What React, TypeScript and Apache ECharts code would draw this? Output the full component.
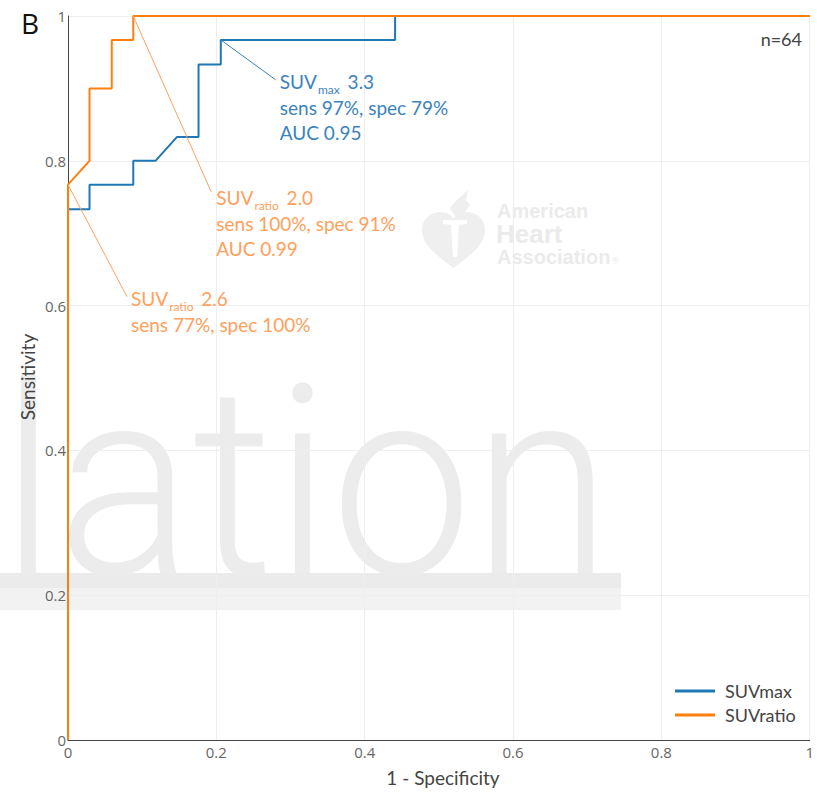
import React, { useEffect, useRef } from 'react';
import * as echarts from 'echarts';

// ROC curve data (1 - specificity, sensitivity)
const suvMaxFpr = [0, 0, 0.029, 0.029, 0.088, 0.088, 0.118, 0.147, 0.176, 0.176, 0.206, 0.206, 0.441, 0.441, 1];
const suvMaxTpr = [0, 0.733, 0.733, 0.767, 0.767, 0.8, 0.8, 0.833, 0.833, 0.933, 0.933, 0.967, 0.967, 1, 1];
const suvRatioFpr = [0, 0, 0.029, 0.029, 0.059, 0.059, 0.088, 0.088, 1];
const suvRatioTpr = [0, 0.767, 0.8, 0.9, 0.9, 0.967, 0.967, 1, 1];

const seriesNames = ['SUVmax', 'SUVratio'];
const seriesColors = ['#1f77b4', '#ff7f0e'];

// Annotations
const annoX = [0.206, 0.088, 0];
const annoY = [0.967, 1, 0.767];
const annoSub = ['max', 'ratio', 'ratio'];
const annoValue = ['3.3', '2.0', '2.6'];
const annoLines = [
  ['sens 97%, spec 79%', 'AUC 0.95'],
  ['sens 100%, spec 91%', 'AUC 0.99'],
  ['sens 77%, spec 100%'],
];
const annoColors = ['#3b83bd', '#ffa05c'];
const annoColorIdx = [0, 1, 1];
// layout offsets (pixels) from anchor: arrow end, text start
const annoArrowOff = [[55, 40], [78, 176], [59, 112]];
const annoTextOff = [[59, 42], [83, 181], [63, 114]];

const sampleSize = 'n=64';
const panelLabel = 'B';
const xTitle = '1 - Specificity';
const yTitle = 'Sensitivity';

const heartPath =
  'M50 95 C20 70 0 55 0 30 C0 12 14 0 30 0 C40 0 47 6 50 12 C53 6 60 0 70 0 C86 0 100 12 100 30 C100 55 80 70 50 95 Z';

let registered = false;

export default function App() {
  const ref = useRef<HTMLDivElement>(null);

  useEffect(() => {
    document.body.style.margin = '0';
    if (!registered) {
      echarts.graphic.registerShape('heart', echarts.graphic.extendPath(heartPath, {}));
      registered = true;
    }
    const chart = echarts.init(ref.current!, null, { renderer: 'svg' });
    const font = 'Lato';
    const axisCommon = {
      type: 'value',
      min: 0,
      max: 1,
      interval: 0.2,
      axisLine: { show: true, onZero: false, lineStyle: { color: '#444', width: 1 } },
      axisTick: { show: false },
      splitLine: { show: true, lineStyle: { color: '#eeeeee', width: 1 } },
    };
    const option: any = {
      animation: false,
      grid: { left: 68, right: 4, top: 16, bottom: 55 },
      xAxis: {
        ...axisCommon,
        axisLabel: { color: '#666', fontSize: 15, fontFamily: 'Open Sans', margin: 4 },
      },
      yAxis: {
        ...axisCommon,
        axisLabel: { color: '#666', fontSize: 15, fontFamily: 'Open Sans', margin: 2 },
      },
      legend: {
        orient: 'vertical',
        left: 670,
        top: 674,
        icon: 'rect',
        itemWidth: 40,
        itemHeight: 3,
        itemGap: 0,
        data: seriesNames,
        textStyle: { color: '#444', fontSize: 18, fontFamily: font, lineHeight: 24, padding: [0, 0, 0, 5] },
      },
      series: [
        {
          type: 'line',
          name: seriesNames[0],
          data: suvMaxFpr.map((x, i) => [x, suvMaxTpr[i]]),
          symbol: 'none',
          lineStyle: { color: seriesColors[0], width: 2 },
          itemStyle: { color: seriesColors[0] },
          z: 3,
        },
        {
          type: 'line',
          name: seriesNames[1],
          data: suvRatioFpr.map((x, i) => [x, suvRatioTpr[i]]),
          symbol: 'none',
          lineStyle: { color: seriesColors[1], width: 2 },
          itemStyle: { color: seriesColors[1] },
          z: 4,
        },
      ],
    };
    chart.setOption(option);

    const graphics: any[] = [];
    // watermark
    graphics.push(
      { type: 'rect', z: -1, silent: true, shape: { x: 0, y: 573, width: 621, height: 15 }, style: { fill: '#ebebeb' } },
      { type: 'rect', z: -1, silent: true, shape: { x: 0, y: 588, width: 621, height: 22 }, style: { fill: '#f2f2f2' } },
      {
        type: 'text', z: -1, silent: true, x: 0, y: 573, scaleX: 1, scaleY: 1.05,
        style: { text: 'lation', x: 0, y: -86, fontSize: 253, fontFamily: 'Roboto', fontWeight: 300, fill: '#ececec', align: 'left', verticalAlign: 'middle' },
      },
      { type: 'heart', z: -1, silent: true, x: 422, y: 212, scaleX: 0.63, scaleY: 0.59, style: { fill: '#efefef' } },
      {
        type: 'polygon', z: -1, silent: true,
        shape: { points: [[443, 220], [467, 220], [467, 224], [459, 225], [457, 257], [453, 257], [451, 225], [443, 224]] },
        style: { fill: '#ffffff' },
      },
      {
        type: 'polygon', z: -1, silent: true,
        shape: { points: [[455, 216], [450, 208], [457, 200], [468, 190], [466, 200], [470, 205], [462, 216]] },
        style: { fill: '#efefef' },
      },
      { type: 'text', z: -1, silent: true, x: 497, y: 211, style: { text: 'American', fontSize: 20, fontWeight: 'bold', fontFamily: 'Liberation Sans', fill: '#ebebeb', verticalAlign: 'middle' } },
      { type: 'text', z: -1, silent: true, x: 496, y: 234, style: { text: 'Heart', fontSize: 26, fontWeight: 'bold', fontFamily: 'Liberation Sans', fill: '#ebebeb', verticalAlign: 'middle' } },
      { type: 'text', z: -1, silent: true, x: 497, y: 257, style: { text: 'Association', fontSize: 20, fontWeight: 'bold', fontFamily: 'Liberation Sans', fill: '#ebebeb', verticalAlign: 'middle' } },
      { type: 'text', z: -1, silent: true, x: 612, y: 261, style: { text: '®', fontSize: 9, fontFamily: 'Liberation Sans', fill: '#ebebeb', verticalAlign: 'middle' } },
    );

    // annotations
    annoX.forEach((ax, i) => {
      const p = chart.convertToPixel({ gridIndex: 0 }, [ax, annoY[i]]) as number[];
      const color = annoColors[annoColorIdx[i]];
      const ex = p[0] + annoArrowOff[i][0];
      const ey = p[1] + annoArrowOff[i][1];
      const tx = p[0] + annoTextOff[i][0];
      const ty = p[1] + annoTextOff[i][1];
      graphics.push({
        type: 'line', z: 10, silent: true,
        shape: { x1: p[0], y1: p[1], x2: ex, y2: ey },
        style: { stroke: color, lineWidth: 1 },
      });
      graphics.push({
        type: 'text', z: 10, silent: true, x: tx, y: ty,
        style: {
          text: `{s|SUV}{sub|${annoSub[i]}}{s| ${annoValue[i]}}`,
          align: 'left',
          verticalAlign: 'middle',
          rich: {
            s: { fontSize: 19, fontFamily: font, fill: color, lineHeight: 28 },
            sub: { fontSize: 12, fontFamily: font, fill: color, lineHeight: 12, verticalAlign: 'bottom', padding: [0, 3, 0, 1] },
          },
        },
      });
      annoLines[i].forEach((ln, k) => {
        graphics.push({
          type: 'text', z: 10, silent: true, x: tx, y: ty + 25 * (k + 1) + 1,
          style: {
            text: ln,
            fontSize: 19, fontFamily: font, fill: color,
            align: 'left', verticalAlign: 'middle',
          },
        });
      });
    });

    graphics.push(
      { type: 'text', z: 10, x: 21, y: 23, style: { text: panelLabel, fontSize: 28, fontFamily: 'Open Sans', fill: '#111', verticalAlign: 'middle' } },
      { type: 'text', z: 10, x: 802, y: 39, style: { text: sampleSize, fontSize: 18, fontFamily: font, fill: '#444', align: 'right', verticalAlign: 'middle' } },
      { type: 'text', z: 10, x: 443, y: 777, style: { text: xTitle, fontSize: 19, fontFamily: font, fill: '#444', align: 'center', verticalAlign: 'middle' } },
      { type: 'text', z: 10, x: 27, y: 377, rotation: Math.PI / 2, style: { text: yTitle, fontSize: 19, fontFamily: font, fill: '#444', align: 'center', verticalAlign: 'middle' } },
    );

    chart.setOption({ graphic: { elements: graphics } });
    return () => chart.dispose();
  }, []);

  return <div ref={ref} style={{ width: 817, height: 795 }} />;
}
